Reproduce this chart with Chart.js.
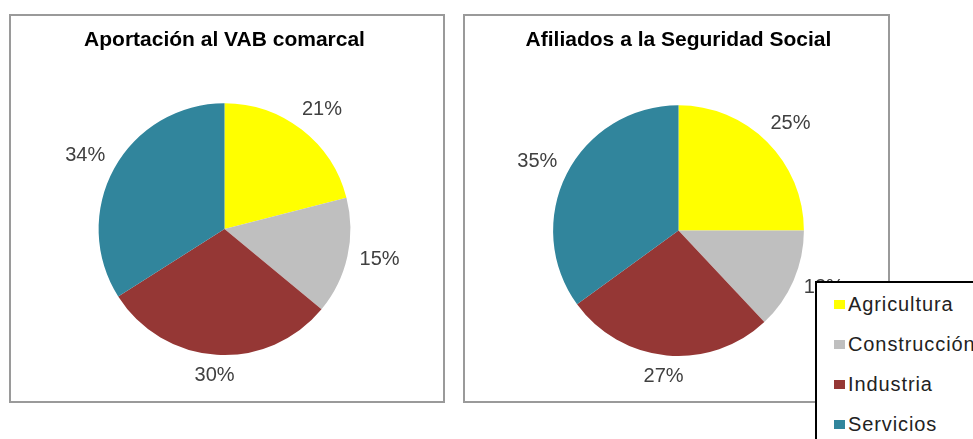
<!DOCTYPE html>
<html>
<head>
<meta charset="utf-8">
<script src="https://cdn.jsdelivr.net/npm/chart.js@4.4.1/dist/chart.umd.min.js"></script>
<style>
  html, body { margin: 0; padding: 0; background: #fff; }
  body { width: 973px; height: 439px; position: relative; overflow: hidden;
         font-family: "Liberation Sans", Arial, sans-serif; }
  .panel { position: absolute; box-sizing: border-box; border: 2px solid #9a9a9a; background: #fff; }
  .panel canvas { display: block; }
  #legend { position: absolute; left: 815px; top: 281px; width: 170px; height: 170px;
            box-sizing: border-box; border: 2px solid #000; background: #fff; }
</style>
</head>
<body>
<div class="panel" style="left:9px;top:14px;width:436px;height:389px">
  <canvas id="chartVAB" width="432" height="385"></canvas>
</div>
<div class="panel" style="left:463px;top:14px;width:427px;height:389px">
  <canvas id="chartAfil" width="423" height="385"></canvas>
</div>
<div id="legend"></div>

<script>
// ── data ─────────────────────────────────────────────
const categories = ["Agricultura", "Construcción", "Industria", "Servicios"];
const colors     = ["#ffff00", "#bfbfbf", "#953735", "#31859c"];
const vabValues  = [21, 15, 30, 34];
const afilValues = [25, 13, 27, 35];
const vabTitle   = "Aportación al VAB comarcal";
const afilTitle  = "Afiliados a la Seguridad Social";

// ── percent labels outside each slice (box pushed off the rim) ──
const outsideLabels = {
  id: "outsideLabels",
  afterDatasetsDraw(chart) {
    const ctx = chart.ctx;
    const data = chart.data.datasets[0].data;
    const total = data.reduce((a, b) => a + b, 0);
    const meta = chart.getDatasetMeta(0);
    ctx.save();
    ctx.font = "20px 'Liberation Sans', Arial, sans-serif";
    ctx.fillStyle = "#404040";
    ctx.textAlign = "center";
    ctx.textBaseline = "middle";
    meta.data.forEach((arc, i) => {
      const p = arc.getProps(["x", "y", "startAngle", "endAngle", "outerRadius"], true);
      const mid = (p.startAngle + p.endAngle) / 2;
      const txt = Math.round(data[i] / total * 100) + "%";
      const w = ctx.measureText(txt).width, h = 20, gap = 13;
      const cx = Math.cos(mid), cy = Math.sin(mid);
      const x = p.x + cx * (p.outerRadius + gap) + cx * w / 2;
      const y = p.y + cy * (p.outerRadius + gap) + cy * h / 2 - 2;
      ctx.fillText(txt, x, y);
    });
    ctx.restore();
  },
};

function makePie(id, values, title, pad) {
  new Chart(document.getElementById(id), {
    type: "pie",
    data: {
      labels: categories,
      datasets: [{ data: values, backgroundColor: colors, borderWidth: 0 }],
    },
    options: {
      responsive: false,
      animation: false,
      layout: { padding: pad },
      plugins: {
        legend: { display: false },
        tooltip: { enabled: false },
        title: {
          display: true,
          text: title,
          color: "#000",
          font: { family: "'Liberation Sans', Arial, sans-serif", size: 21, weight: "bold", lineHeight: 1.2 },
          padding: { top: 12, bottom: pad.titleBottom },
        },
      },
    },
    plugins: [outsideLabels],
  });
}

makePie("chartVAB",  vabValues,  vabTitle,  { left: 0, right: 5, top: 0, bottom: 46, titleBottom: 50 });
makePie("chartAfil", afilValues, afilTitle, { left: 4, right: 0, top: 0, bottom: 45, titleBottom: 52 });

// ── legend ───────────────────────────────────────────
document.getElementById("legend").innerHTML = categories.map((c, i) => `
  <div style="position:absolute;left:17px;top:${10 + i * 40}px;height:22px;display:flex;align-items:center;
    font-size:20px;letter-spacing:0.9px;color:#222;white-space:nowrap">
    <span style="width:11px;height:9px;background:${colors[i]};display:inline-block;margin-right:3px"></span>${c}
  </div>`).join("");
</script>
</body>
</html>
